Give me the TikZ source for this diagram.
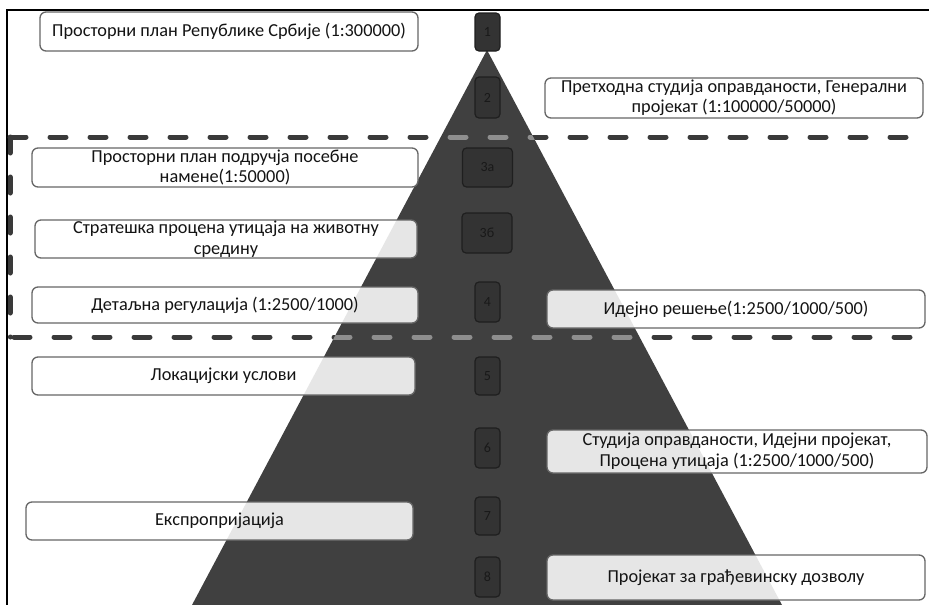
\documentclass[tikz,border=0pt]{standalone}
\usepackage{fontspec}
\setmainfont{Carlito}
\usepackage{tikz}

\definecolor{piramida}{HTML}{404040}
\definecolor{crta}{HTML}{3A3A3A}
\definecolor{crtasvetla}{HTML}{8E8E8E}

\begin{document}
\begin{tikzpicture}[x=1pt,y=-1pt,
    okvir/.style={draw=black!60, line width=1.3pt, rounded corners=6pt,
      fill=white, fill opacity=0.87, text opacity=1, text=black!92,
      align=center, inner sep=0pt, font=\fontsize{18.3}{20.5}\selectfont},
    broj/.style={draw=black!88, line width=1.2pt, rounded corners=4pt,
      fill=black!80, text=black!90, inner sep=0pt, minimum width=25pt,
      font=\fontsize{14}{16}\selectfont},
    isprekidano/.style={line width=5pt, dash pattern=on 16pt off 24pt,
      line cap=round}]
  \useasboundingbox (0,0) rectangle (929,605);
  \draw [line width=1.3pt] (7,605) -- (7,10) -- (929,10);
  % piramida
  \fill [piramida] (487,50) -- (782,605) -- (192,605) -- cycle;
  % granica
  \draw [isprekidano, crta] (10,137) -- (929,137);
  \draw [isprekidano, crta] (10,137) -- (10,337);
  \draw [isprekidano, crta] (14,337) -- (929,337);
  \begin{scope}
    \clip (487,50) -- (782,605) -- (192,605) -- cycle;
    \draw [isprekidano, crtasvetla] (10,137) -- (929,137);
    \draw [isprekidano, crtasvetla] (14,337) -- (929,337);
  \end{scope}
  % tekst
  \node [okvir, minimum width=378pt, minimum height=39pt] (rp) at (229,31.5)
    {Просторни план Републике Србије (1:300000)};
  \node [okvir, minimum width=378pt, minimum height=40pt] (pr) at (734,98)
    {Претходна студија оправданости, Генерални\\пројекат (1:100000/50000)};
  \node [okvir, minimum width=386pt, minimum height=39pt] (pp) at (225,167.5)
    {Просторни план подручја посебне\\намене(1:50000)};
  \node [okvir, minimum width=382pt, minimum height=38pt] (sp) at (226,239)
    {Стратешка процена утицаја на животну\\средину};
  \node [okvir, minimum width=386pt, minimum height=36pt] (dr) at (225,305)
    {Детаљна регулација (1:2500/1000)};
  \node [okvir, minimum width=378pt, minimum height=38pt] (ir) at (736,309)
    {Идејно решење(1:2500/1000/500)};
  \node [okvir, minimum width=383pt, minimum height=38pt] (lu) at (223.5,376)
    {Локацијски услови};
  \node [okvir, minimum width=380pt, minimum height=43pt] (so) at (737,451.5)
    {Студија оправданости, Идејни пројекат,\\Процена утицаја (1:2500/1000/500)};
  \node [okvir, minimum width=387pt, minimum height=38pt] (ek) at (219.5,521)
    {Експропријација};
  \node [okvir, minimum width=378pt, minimum height=45pt] (pd) at (736,577.5)
    {Пројекат за грађевинску дозволу};
  % brojevi
  \node [broj, minimum height=38pt] (n1) at (487.5,32) {1};
  \node [broj, minimum height=41pt] (n2) at (487.5,97.5) {2};
  \node [broj, minimum width=50pt, minimum height=39pt] (n3a) at (487.5,167.5) {3а};
  \node [broj, minimum width=50pt, minimum height=40pt] (n3b) at (487,233) {3б};
  \node [broj, minimum height=40pt] (n4) at (487.5,302) {4};
  \node [broj, minimum height=38pt] (n5) at (487.5,376) {5};
  \node [broj, minimum height=40pt] (n6) at (487.5,448) {6};
  \node [broj, minimum height=38pt] (n7) at (487.5,516) {7};
  \node [broj, minimum height=40pt] (n8) at (487.5,577) {8};
\end{tikzpicture}
\end{document}
